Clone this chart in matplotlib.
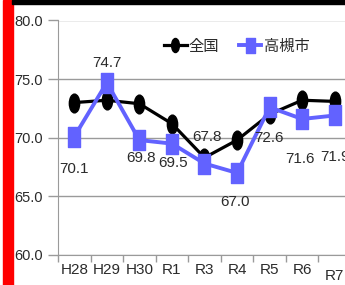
import numpy as np
import matplotlib.pyplot as plt
from matplotlib.path import Path

# データ
years = ["H28", "H29", "H30", "R1", "R3", "R4", "R5", "R6", "R7"]
zenkoku = [73.0, 73.2, 72.9, 71.2, 68.3, 69.8, 72.0, 73.2, 73.1]
takatsuki = [70.1, 74.7, 69.8, 69.5, 67.8, 67.0, 72.6, 71.6, 71.9]
# ラベル位置のずれ（ピクセル）
label_dx = [0, 0, 2, 1, 3, -2, -1, -2, 0]
label_dy = [-32, 20, -18, -19, 27, -29, -31, -40, -42]

num_font = ['Liberation Sans', 'DejaVu Sans']
jp_font = ['Noto Sans CJK JP', 'DejaVu Sans']

blue = '#6262FF'
txt = '#2b2b2b'
grid_c = '#9a9a9a'

# 縦長の丸と四角のマーカー
ell = Path(Path.unit_circle().vertices * [0.55, 1.0], Path.unit_circle().codes)
rect = Path([(-0.6, -1), (0.6, -1), (0.6, 1), (-0.6, 1), (-0.6, -1)],
            [Path.MOVETO, Path.LINETO, Path.LINETO, Path.LINETO, Path.CLOSEPOLY])

fig = plt.figure(figsize=(3.45, 2.85), dpi=100)
W, H = 345, 285
ax = fig.add_axes([58 / W, (H - 255) / H, (351 - 58) / W, (255 - 20.5) / H])

x = np.arange(len(years))
ax.plot(x, zenkoku, color='black', lw=2.3, marker=ell, ms=13.5,
        mfc='black', mec='black', label='全国', zorder=3)
ax.plot(x, takatsuki, color=blue, lw=2.8, marker=rect, ms=14.4,
        mfc=blue, mec=blue, label='高槻市', zorder=4)

for i, v in enumerate(takatsuki):
    ax.annotate(f"{v:.1f}", (x[i], v), xytext=(label_dx[i], label_dy[i]),
                textcoords='offset pixels', ha='center', va='center',
                fontsize=11, family=num_font, color=txt, zorder=5)

ax.set_xlim(-0.5, 8.5)
ax.set_ylim(60, 80)
ax.set_yticks([60, 65, 70, 75, 80])
ax.set_yticklabels([f"{v:.1f}" for v in [60, 65, 70, 75, 80]],
                   fontsize=10.5, family=num_font, color=txt)
ax.set_xticks(np.arange(-0.5, 9, 1), minor=False)
ax.set_xticklabels([])
ax.set_xticks(x, minor=True)
ax.set_xticklabels(years, minor=True, fontsize=11, family=num_font, color=txt)
ax.tick_params(axis='x', which='major', length=5, color=grid_c, width=1, direction='out')
ax.tick_params(axis='x', which='minor', length=0, pad=6)
ax.tick_params(axis='y', length=7, color=grid_c, width=1, pad=4)
ax.grid(axis='y', color=grid_c, lw=1)
for s in ['top', 'right']:
    ax.spines[s].set_visible(False)
for s in ['left', 'bottom']:
    ax.spines[s].set_color(grid_c)
ax.xaxis.get_minorticklabels()[-1].set_y(-0.025)

leg = ax.legend(loc='upper left', bbox_to_anchor=(92 / 293, 0.985), ncol=2,
                frameon=False, prop={'family': jp_font, 'size': 11},
                handlelength=1.5, handletextpad=0.15, columnspacing=1.25,
                markerscale=0.75, labelcolor=txt)

# 左の赤い帯と上の黒い帯
fig.patches.append(plt.Rectangle((3 / W, 0), 9.5 / W, 1, color='#ff0000',
                                 transform=fig.transFigure, figure=fig))
fig.patches.append(plt.Rectangle((12 / W, 1 - 4 / H), 1, 4 / H, color='black',
                                 transform=fig.transFigure, figure=fig))

fig.savefig('out.png', dpi=100)
